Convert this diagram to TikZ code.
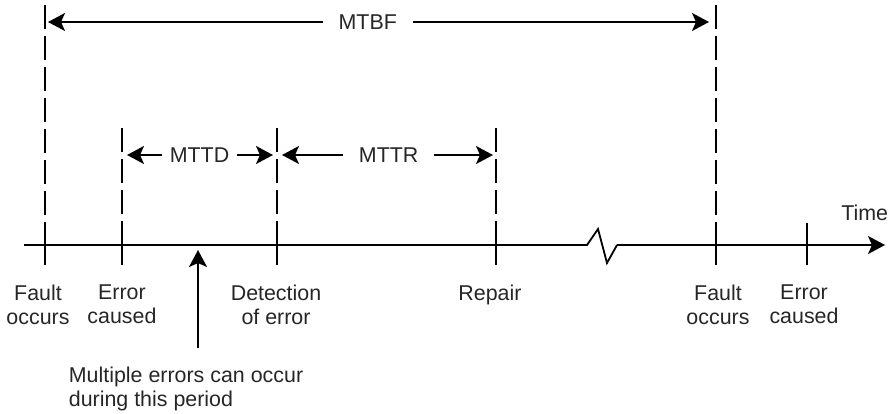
\documentclass[tikz,border=0pt]{standalone}
\usepackage{fontspec}
\setmainfont{Liberation Sans}
\usetikzlibrary{arrows.meta}

\begin{document}
\begin{tikzpicture}[x=0.5pt,y=-0.5pt,line width=0.9pt,
  font=\fontsize{10.7}{12}\selectfont,
  >={Stealth[length=8.5pt,width=9pt,inset=2pt]},
  guide/.style={dash pattern=on 12pt off 3.5pt},
  lbl/.style={align=center,anchor=north,inner sep=0pt,text=black!85},
  span/.style={fill=white,inner ysep=1pt,inner xsep=8pt,text=black!85}]
  \useasboundingbox (0,0) rectangle (893,413);
  \def\ay{245}
  % ---------------- time axis ----------------
  \coordinate (t0) at (24,\ay);
  \coordinate (brkL) at (587,\ay);
  \coordinate (brkR) at (617,\ay);
  \coordinate (tend) at (885,\ay);
  \draw[line join=miter] (t0) -- (brkL) -- ++(11,-16) -- ++(9,34) -- (brkR);
  \draw[->] (brkR) -- (tend);
  \node[anchor=base east,inner sep=0pt,text=black!85] (time) at (889,220) {Time};
  % ---------------- events ----------------
  \foreach \name/\x/\top/\lx/\txt in {fo1/45/5/38/{Fault\\occurs},ec1/122/128/122/{Error\\caused},
      de/277/128/276/{Detection\\of error},rp/496/128/490/{Repair},fo2/716/5/718/{Fault\\occurs},
      ec2/807/223/804/{Error\\caused}}{
    \coordinate (\name) at (\x,\ay);
    \coordinate (\name-top) at (\x,\top);
    \draw (\x,223) -- (\x,265);
    \ifnum\top<200
      \draw[guide] (\name-top) -- (\name);
    \fi
    \node[lbl] (\name-l) at (\lx,284) {\txt};
  }
  % ---------------- intervals ----------------
  \coordinate (bfL) at (45,22);
  \coordinate (bfR) at (716,22);
  \coordinate (tdL) at (122,155);
  \coordinate (tdR) at (277,155);
  \coordinate (trR) at (496,155);
  \draw[<->,shorten <=1.5pt,shorten >=3.5pt] (bfL) -- (bfR) node[span,pos=0.481] (mtbf) {MTBF};
  \draw[<->,shorten <=2.5pt,shorten >=2pt] (tdL) -- (tdR) node[span,inner xsep=4pt,pos=0.5] (mttd) {MTTD};
  \draw[<->,shorten <=2.5pt,shorten >=1.5pt] (tdR) -- (trR) node[span,pos=0.51] (mttr) {MTTR};
  % ---------------- note ----------------
  \node[anchor=north west,align=left,inner sep=0pt,text=black!85] (note) at (68,366)
    {Multiple errors can occur\\during this period};
  \coordinate (hit) at (198,250);
  \coordinate (foot) at (198,348);
  \draw[->] (foot) -- (hit);
\end{tikzpicture}
\end{document}
